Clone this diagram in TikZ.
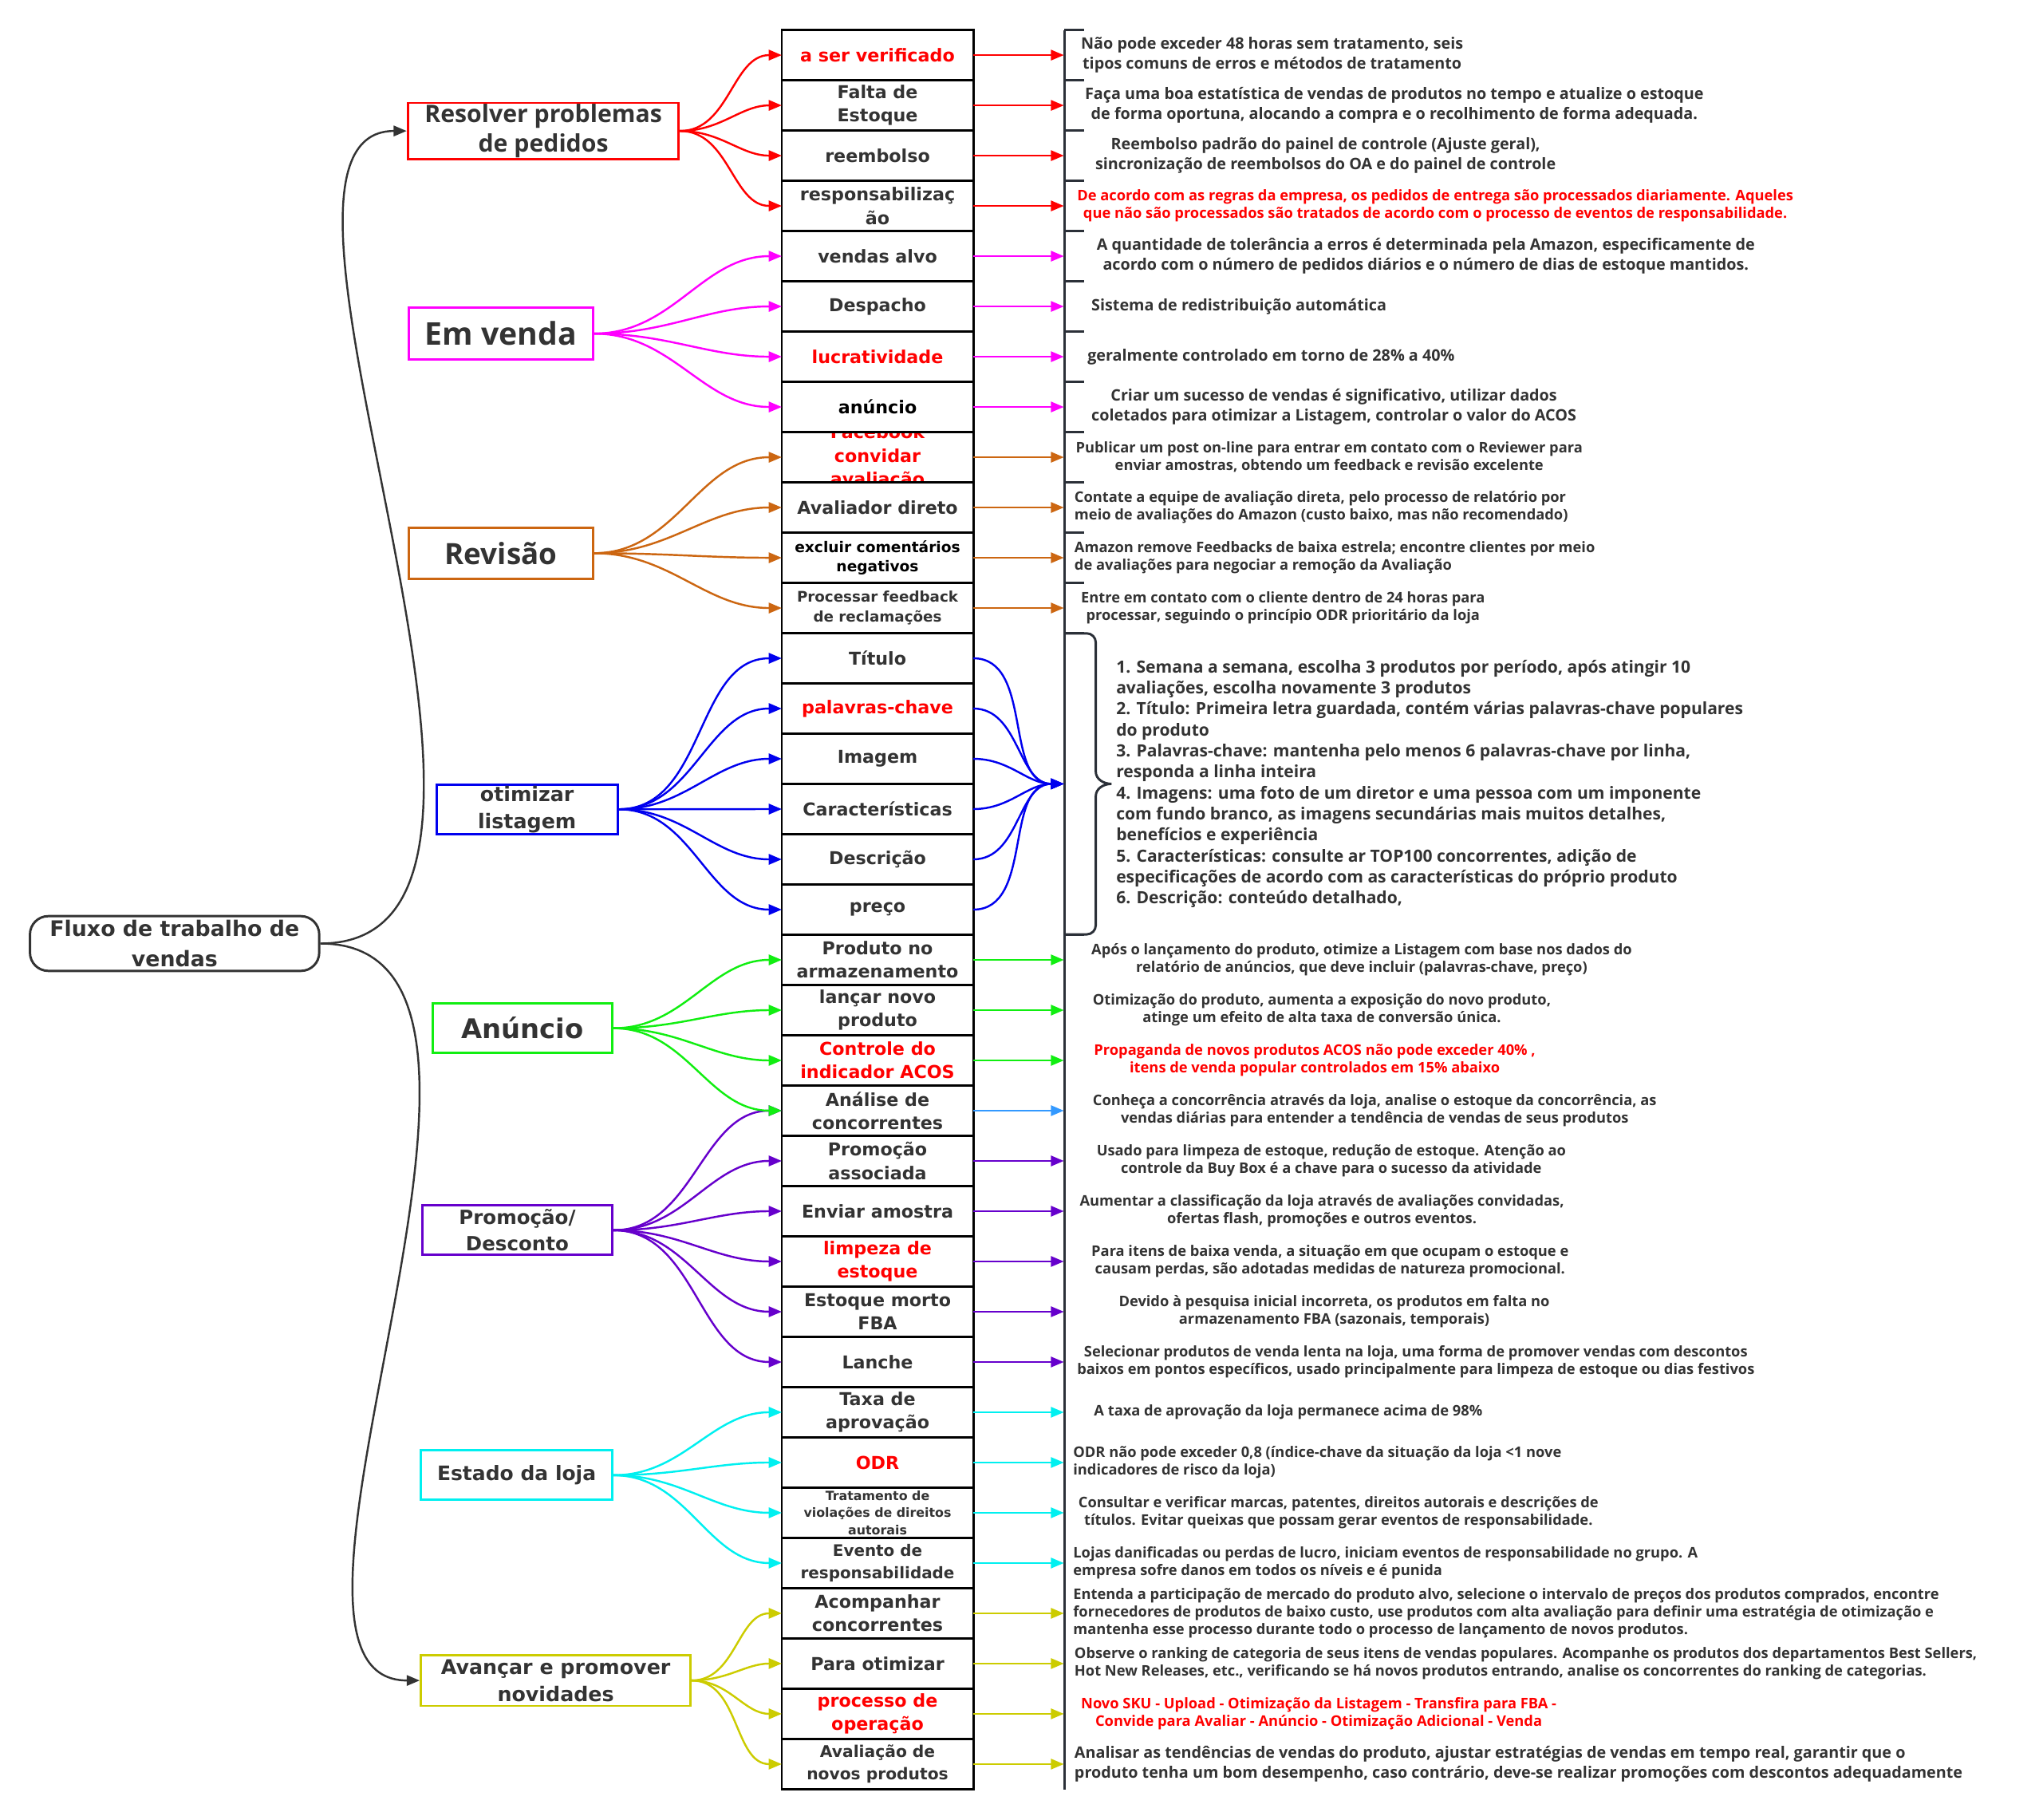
\documentclass[tikz,border=0pt]{standalone}
\usepackage{fontspec}
\usepackage{xcolor}
\usepackage{tikz}
\usetikzlibrary{positioning, arrows.meta}
\setmainfont{Open Sans}
\newfontfamily\boxfont{DejaVu Sans}
\definecolor{inkgray}{HTML}{333333}
\definecolor{brkgray}{HTML}{2B3038}
\definecolor{ordred}{HTML}{FF0000}
\definecolor{salemag}{HTML}{FF00FF}
\definecolor{revorange}{HTML}{CC6611}
\definecolor{lstblue}{HTML}{0000EE}
\definecolor{adgreen}{HTML}{11EE11}
\definecolor{rivalblue}{HTML}{3399FF}
\definecolor{promopurple}{HTML}{6600CC}
\definecolor{shopcyan}{HTML}{00F0F0}
\definecolor{newyellow}{HTML}{CCCC00}

\tikzset{
  celltext/.style={font=\boxfont\bfseries\fontsize{13.6}{18}\selectfont},
  cell/.style={celltext, draw=black, line width=1.8pt, fill=white, minimum width=147pt, minimum height=38.57pt,
    inner sep=0pt, outer sep=0pt, align=center, text=inkgray},
  topic/.style={draw=#1, line width=1.8pt, fill=white, inner sep=0pt, align=center, text=inkgray},
  branch/.style={draw=#1, line width=1.5pt, -{Triangle[length=10pt,width=8pt]}},
  note/.style={align=center, text=inkgray, inner sep=0pt, font=\bfseries\fontsize{11.2}{13.6}\selectfont},
  bignote/.style={note, font=\bfseries\fontsize{12.1}{15.5}\selectfont},
  brk/.style={draw=brkgray, line width=1.8pt},
}

\begin{document}
\begin{tikzpicture}[x=1pt, y=-1pt]
  \path[use as bounding box, fill=white] (0,0) rectangle (1568,1396);

  \node[draw=inkgray, line width=1.8pt, rounded corners=14pt, minimum width=222pt, minimum height=42pt, inner sep=0pt,
        align=center, text=inkgray, font=\boxfont\bfseries\fontsize{16.4}{23}\selectfont] (root) at (134,724) {Fluxo de trabalho de\\vendas};

  \node[topic=ordred, minimum width=208pt, minimum height=43pt, font=\bfseries\fontsize{18.5}{23}\selectfont] (resolver) at (417,100.5) {Resolver problemas\\de pedidos};
  \node[topic=salemag, minimum width=141pt, minimum height=40pt, font=\bfseries\fontsize{24}{29}\selectfont] (emvenda) at (384.5,256) {Em venda};
  \node[topic=revorange, minimum width=141pt, minimum height=39pt, font=\bfseries\fontsize{22.5}{27}\selectfont] (revisao) at (384.5,424.5) {Revisão};
  \node[topic=lstblue, minimum width=139pt, minimum height=38pt, font=\boxfont\bfseries\fontsize{15.5}{21}\selectfont] (otimizar) at (404.5,621) {otimizar\\listagem};
  \node[topic=adgreen, minimum width=138pt, minimum height=38pt, font=\boxfont\bfseries\fontsize{20.7}{25}\selectfont] (anuncio) at (401,789) {Anúncio};
  \node[topic=promopurple, minimum width=146pt, minimum height=38pt, font=\boxfont\bfseries\fontsize{15}{20}\selectfont] (promocao) at (397,944) {Promoção/\\Desconto};
  \node[topic=shopcyan, minimum width=147pt, minimum height=38pt, font=\boxfont\bfseries\fontsize{15.3}{19}\selectfont] (estado) at (396.5,1132) {Estado da loja};
  \node[topic=newyellow, minimum width=207pt, minimum height=39pt, font=\boxfont\bfseries\fontsize{15.5}{21}\selectfont] (avancar) at (426.5,1289.5) {Avançar e promover\\novidades};

  \node[cell, text=ordred] (c1) at (673.5,42.29) {a ser verificado};
  \node[cell, below=0pt of c1] (c2) {Falta de\\Estoque};
  \node[cell, below=0pt of c2] (c3) {reembolso};
  \node[cell, below=0pt of c3] (c4) {responsabilizaç\\ão};
  \node[cell, below=0pt of c4] (c5) {vendas alvo};
  \node[cell, below=0pt of c5] (c6) {Despacho};
  \node[cell, text=ordred, below=0pt of c6] (c7) {lucratividade};
  \node[cell, text=black, below=0pt of c7] (c8) {anúncio};
  \node[cell, below=0pt of c8, path picture={\node[celltext, anchor=center, text=ordred, align=center] at (path picture bounding box.center) {Facebook\\convidar\\avaliação};}] (c9) {};
  \node[cell, below=0pt of c9] (c10) {Avaliador direto};
  \node[cell, text=black, font=\boxfont\bfseries\fontsize{11.4}{15}\selectfont, below=0pt of c10] (c11) {excluir comentários\\negativos};
  \node[cell, font=\boxfont\bfseries\fontsize{11.2}{15}\selectfont, below=0pt of c11] (c12) {Processar feedback\\de reclamações};
  \node[cell, below=0pt of c12] (c13) {Título};
  \node[cell, text=ordred, below=0pt of c13] (c14) {palavras-chave};
  \node[cell, below=0pt of c14] (c15) {Imagem};
  \node[cell, below=0pt of c15] (c16) {Características};
  \node[cell, below=0pt of c16] (c17) {Descrição};
  \node[cell, below=0pt of c17] (c18) {preço};
  \node[cell, below=0pt of c18] (c19) {Produto no\\armazenamento};
  \node[cell, below=0pt of c19] (c20) {lançar novo\\produto};
  \node[cell, text=ordred, below=0pt of c20] (c21) {Controle do\\indicador ACOS};
  \node[cell, below=0pt of c21] (c22) {Análise de\\concorrentes};
  \node[cell, below=0pt of c22] (c23) {Promoção\\associada};
  \node[cell, below=0pt of c23] (c24) {Enviar amostra};
  \node[cell, text=ordred, below=0pt of c24] (c25) {limpeza de\\estoque};
  \node[cell, below=0pt of c25] (c26) {Estoque morto\\FBA};
  \node[cell, below=0pt of c26] (c27) {Lanche};
  \node[cell, below=0pt of c27] (c28) {Taxa de\\aprovação};
  \node[cell, text=ordred, below=0pt of c28] (c29) {ODR};
  \node[cell, below=0pt of c29, path picture={\node[anchor=center, text=inkgray, align=center, font=\boxfont\bfseries\fontsize{9.7}{13.3}\selectfont] at (path picture bounding box.center) {Tratamento de\\violações de direitos\\autorais};}] (c30) {};
  \node[cell, font=\boxfont\bfseries\fontsize{12.2}{17}\selectfont, below=0pt of c30] (c31) {Evento de\\responsabilidade};
  \node[cell, below=0pt of c31] (c32) {Acompanhar\\concorrentes};
  \node[cell, below=0pt of c32] (c33) {Para otimizar};
  \node[cell, text=ordred, below=0pt of c33] (c34) {processo de\\operação};
  \node[cell, font=\boxfont\bfseries\fontsize{12.4}{17}\selectfont, below=0pt of c34] (c35) {Avaliação de\\novos produtos};

  \foreach \i in {1,...,35} \path (c\i.east) ++(69.5,0) coordinate (b\i);
  \coordinate (lst) at (816.5,601.5);

  \draw[brk] (817,23) -- (817,1373);
  \foreach \k in {0,...,12,18,...,35} \draw[brk] (817,{23+38.57*\k}) -- ++(15,0);
  \draw[brk] (817,486) -- (834,486) to[out=0,in=90] (841,493) -- (841,592) to[out=-90,in=180] (853,601.5)
    to[out=180,in=90] (841,611) -- (841,710) to[out=-90,in=0] (834,717) -- (817,717);

  \draw[branch=inkgray] (root.east) .. controls +(212,0) and +(-150,0) .. (resolver.west);
  \draw[branch=inkgray] (root.east) .. controls +(200,0) and +(-150,0) .. (avancar.west);

  \foreach \i in {1,...,4} \draw[branch=ordred] (resolver.east) to[out=0,in=180] (c\i.west);
  \foreach \i in {5,...,8} \draw[branch=salemag] (emvenda.east) to[out=0,in=180] (c\i.west);
  \foreach \i in {9,...,12} \draw[branch=revorange] (revisao.east) to[out=0,in=180] (c\i.west);
  \foreach \i in {13,...,18} \draw[branch=lstblue] (otimizar.east) to[out=0,in=180] (c\i.west);
  \foreach \i in {22,...,27} \draw[branch=promopurple] (promocao.east) to[out=0,in=180] (c\i.west);
  \foreach \i in {19,...,22} \draw[branch=adgreen] (anuncio.east) to[out=0,in=180] (c\i.west);
  \foreach \i in {28,...,31} \draw[branch=shopcyan] (estado.east) to[out=0,in=180] (c\i.west);
  \foreach \i in {32,...,35} \draw[branch=newyellow] (avancar.east) to[out=0,in=180] (c\i.west);

  \foreach \i in {1,...,4} \draw[branch=ordred] (c\i.east) -- (b\i);
  \foreach \i in {5,...,8} \draw[branch=salemag] (c\i.east) -- (b\i);
  \foreach \i in {9,...,12} \draw[branch=revorange] (c\i.east) -- (b\i);
  \foreach \i in {13,...,18} \draw[branch=lstblue] (c\i.east) to[out=0,in=180] (lst);
  \foreach \i in {19,20,21} \draw[branch=adgreen] (c\i.east) -- (b\i);
  \draw[branch=rivalblue] (c22.east) -- (b22);
  \foreach \i in {23,...,27} \draw[branch=promopurple] (c\i.east) -- (b\i);
  \foreach \i in {28,...,31} \draw[branch=shopcyan] (c\i.east) -- (b\i);
  \foreach \i in {32,...,35} \draw[branch=newyellow] (c\i.east) -- (b\i);

  \node[bignote, right=13pt of b1] (d1) {Não pode exceder 48 horas sem tratamento, seis\\tipos comuns de erros e métodos de tratamento};
  \node[bignote, right=16pt of b2] (d2) {Faça uma boa estatística de vendas de produtos no tempo e atualize o estoque\\de forma oportuna, alocando a compra e o recolhimento de forma adequada.};
  \node[bignote, right=24pt of b3] (d3) {Reembolso padrão do painel de controle (Ajuste geral),\\sincronização de reembolsos do OA e do painel de controle};
  \node[note, text=ordred, right=10pt of b4] (d4) {De acordo com as regras da empresa, os pedidos de entrega são processados diariamente. Aqueles\\que não são processados são tratados de acordo com o processo de eventos de responsabilidade.};
  \node[bignote, right=25pt of b5] (d5) {A quantidade de tolerância a erros é determinada pela Amazon, especificamente de\\acordo com o número de pedidos diários e o número de dias de estoque mantidos.};
  \node[bignote, right=21pt of b6] (d6) {Sistema de redistribuição automática};
  \node[bignote, right=18pt of b7] (d7) {geralmente controlado em torno de 28\% a 40\%};
  \node[bignote, right=21pt of b8] (d8) {Criar um sucesso de vendas é significativo, utilizar dados\\coletados para otimizar a Listagem, controlar o valor do ACOS};
  \node[note, right=9pt of b9] (d9) {Publicar um post on-line para entrar em contato com o Reviewer para\\enviar amostras, obtendo um feedback e revisão excelente};
  \node[note, align=left, right=8pt of b10] (d10) {Contate a equipe de avaliação direta, pelo processo de relatório por\\meio de avaliações do Amazon (custo baixo, mas não recomendado)};
  \node[note, align=left, right=8pt of b11] (d11) {Amazon remove Feedbacks de baixa estrela; encontre clientes por meio\\de avaliações para negociar a remoção da Avaliação};
  \node[note, right=13pt of b12] (d12) {Entre em contato com o cliente dentro de 24 horas para\\processar, seguindo o princípio ODR prioritário da loja};
  \node[note, align=left, font=\bfseries\fontsize{12.9}{16.1}\selectfont, right=40pt of lst] (dlst) {1. Semana a semana, escolha 3 produtos por período, após atingir 10\\
    avaliações, escolha novamente 3 produtos\\
    2. Título: Primeira letra guardada, contém várias palavras-chave populares\\
    do produto\\
    3. Palavras-chave: mantenha pelo menos 6 palavras-chave por linha,\\
    responda a linha inteira\\
    4. Imagens: uma foto de um diretor e uma pessoa com um imponente\\
    com fundo branco, as imagens secundárias mais muitos detalhes,\\
    benefícios e experiência\\
    5. Características: consulte ar TOP100 concorrentes, adição de\\
    especificações de acordo com as características do próprio produto\\
    6. Descrição: conteúdo detalhado,};
  \node[note, right=21pt of b19] (d19) {Após o lançamento do produto, otimize a Listagem com base nos dados do\\relatório de anúncios, que deve incluir (palavras-chave, preço)};
  \node[note, right=22pt of b20] (d20) {Otimização do produto, aumenta a exposição do novo produto,\\atinge um efeito de alta taxa de conversão única.};
  \node[note, text=ordred, right=23pt of b21] (d21) {Propaganda de novos produtos ACOS não pode exceder 40\% ,\\itens de venda popular controlados em 15\% abaixo};
  \node[note, right=22pt of b22] (d22) {Conheça a concorrência através da loja, analise o estoque da concorrência, as\\vendas diárias para entender a tendência de vendas de seus produtos};
  \node[note, right=25pt of b23] (d23) {Usado para limpeza de estoque, redução de estoque. Atenção ao\\controle da Buy Box é a chave para o sucesso da atividade};
  \node[note, right=12pt of b24] (d24) {Aumentar a classificação da loja através de avaliações convidadas,\\ofertas flash, promoções e outros eventos.};
  \node[note, right=21pt of b25] (d25) {Para itens de baixa venda, a situação em que ocupam o estoque e\\causam perdas, são adotadas medidas de natureza promocional.};
  \node[note, right=42pt of b26] (d26) {Devido à pesquisa inicial incorreta, os produtos em falta no\\armazenamento FBA (sazonais, temporais)};
  \node[note, right=10pt of b27] (d27) {Selecionar produtos de venda lenta na loja, uma forma de promover vendas com descontos\\baixos em pontos específicos, usado principalmente para limpeza de estoque ou dias festivos};
  \node[note, right=23pt of b28] (d28) {A taxa de aprovação da loja permanece acima de 98\%};
  \node[note, align=left, right=7pt of b29] (d29) {ODR não pode exceder 0,8 (índice-chave da situação da loja <1 nove\\indicadores de risco da loja)};
  \node[note, right=11pt of b30] (d30) {Consultar e verificar marcas, patentes, direitos autorais e descrições de\\títulos. Evitar queixas que possam gerar eventos de responsabilidade.};
  \node[note, align=left, right=7pt of b31] (d31) {Lojas danificadas ou perdas de lucro, iniciam eventos de responsabilidade no grupo. A\\empresa sofre danos em todos os níveis e é punida};
  \node[note, align=left, right=7pt of b32] (d32) {Entenda a participação de mercado do produto alvo, selecione o intervalo de preços dos produtos comprados, encontre\\fornecedores de produtos de baixo custo, use produtos com alta avaliação para definir uma estratégia de otimização e\\mantenha esse processo durante todo o processo de lançamento de novos produtos.};
  \node[note, align=left, right=8pt of b33] (d33) {Observe o ranking de categoria de seus itens de vendas populares. Acompanhe os produtos dos departamentos Best Sellers,\\Hot New Releases, etc., verificando se há novos produtos entrando, analise os concorrentes do ranking de categorias.};
  \node[note, text=ordred, right=13pt of b34] (d34) {Novo SKU - Upload - Otimização da Listagem - Transfira para FBA -\\Convide para Avaliar - Anúncio - Otimização Adicional - Venda};
  \node[bignote, align=left, right=8pt of b35] (d35) {Analisar as tendências de vendas do produto, ajustar estratégias de vendas em tempo real, garantir que o\\produto tenha um bom desempenho, caso contrário, deve-se realizar promoções com descontos adequadamente};
\end{tikzpicture}
\end{document}
